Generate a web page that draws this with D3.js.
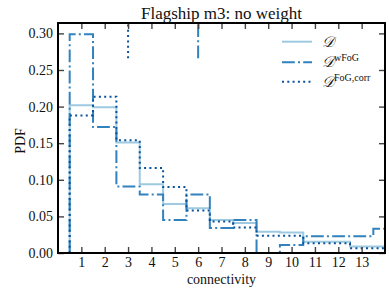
<!DOCTYPE html>
<html>
<head>
<meta charset="utf-8">
<script src="https://cdn.jsdelivr.net/npm/d3@7"></script>
<style>
  body { margin: 0; background: #fff; }
  text { font-family: "Liberation Serif", "DejaVu Serif", serif; fill: #111; }
</style>
</head>
<body>
<svg id="chart" width="389" height="292"></svg>
<script>
// bin centres (connectivity) and PDF values
var centers = [1, 2, 3, 4, 5, 6, 7, 8, 9, 10, 11, 12, 13, 14];
var pdfD    = [0.202, 0.199, 0.151, 0.094, 0.067, 0.061, 0.045, 0.041, 0.029, 0.028, 0.0155, 0.0155, 0.0088, 0.0088];
var pdfWFoG = [0.299, 0.172, 0.091, 0.080, 0.045, 0.080, 0.034, 0.045, 0.0, 0.011, 0.023, 0.023, 0.023, 0.033];
var pdfCorr = [0.188, 0.2135, 0.154, 0.116, 0.090, 0.058, 0.043, 0.035, 0.0235, 0.0235, 0.0132, 0.0132, 0.0064, 0.0064];

// short marker lines at the top of the frame
var markX   = [3, 6];
var markLow = 0.266;

var xTicks = [1, 2, 3, 4, 5, 6, 7, 8, 9, 10, 11, 12, 13];
var yTicks = [0, 0.05, 0.10, 0.15, 0.20, 0.25, 0.30];

var series = [
    {name: "D",    sup: "",         values: pdfD,    color: "#9ecae1", dash: null},
    {name: "wFoG", sup: "wFoG",     values: pdfWFoG, color: "#3182bd", dash: "12.8,3.2,2,3.2"},
    {name: "corr", sup: "FoG,corr", values: pdfCorr, color: "#08519c", dash: "2,3.3"}
];

// plot box (note: "top" is reserved on window, so use m* names)
var mLeft = 58, mRight = 385, mTop = 23, mBottom = 253;
var svg = d3.select("#chart");

var x = d3.scaleLinear().domain([0, 14]).range([mLeft, mRight]);
var y = d3.scaleLinear().domain([0, 0.3142]).range([mBottom, mTop]);

svg.append("clipPath").attr("id", "clip")
    .append("rect").attr("x", mLeft).attr("y", mTop)
    .attr("width", mRight - mLeft).attr("height", mBottom - mTop);

var plot = svg.append("g").attr("clip-path", "url(#clip)");

// build step outline like a step histogram
function stepPoints(vals) {
    var pts = [[centers[0] - 0.5, 0]];
    for (var i = 0; i < vals.length; i++) {
        pts.push([centers[i] - 0.5, vals[i]]);
        pts.push([centers[i] + 0.5, vals[i]]);
    }
    pts.push([centers[centers.length - 1] + 0.5, 0]);
    return pts;
}

var line = d3.line()
    .x(function (d) { return x(d[0]); })
    .y(function (d) { return y(d[1]); });

series.forEach(function (s) {
    plot.append("path")
        .attr("d", line(stepPoints(s.values)))
        .attr("fill", "none")
        .attr("stroke", s.color)
        .attr("stroke-width", 2)
        .attr("stroke-dasharray", s.dash);
});

// marker segments: dotted at 3, dash-dot at 6
plot.append("line")
    .attr("x1", x(markX[0])).attr("x2", x(markX[0]))
    .attr("y1", y(markLow)).attr("y2", mTop)
    .attr("stroke", series[2].color).attr("stroke-width", 2)
    .attr("stroke-dasharray", series[2].dash);
plot.append("line")
    .attr("x1", x(markX[1])).attr("x2", x(markX[1]))
    .attr("y1", y(markLow)).attr("y2", mTop)
    .attr("stroke", series[1].color).attr("stroke-width", 2)
    .attr("stroke-dasharray", series[1].dash);

// inward ticks on all four sides
var tl = 6;
var tickCol = "#444";
function drawAxis(axis, tr) {
    var g = svg.append("g").attr("transform", tr).call(axis);
    g.select(".domain").remove();
    g.selectAll("line").attr("stroke", tickCol).attr("stroke-width", 1.4);
    g.selectAll("text").attr("font-size", 14).attr("fill", "#111")
        .attr("font-family", "Liberation Serif, serif");
    return g;
}

drawAxis(d3.axisBottom(x).tickValues(xTicks).tickSizeInner(-tl).tickPadding(4)
    .tickFormat(d3.format("d")), "translate(0," + mBottom + ")");
drawAxis(d3.axisTop(x).tickValues(xTicks).tickSizeInner(-tl).tickFormat(""), "translate(0," + mTop + ")");
drawAxis(d3.axisLeft(y).tickValues(yTicks).tickSizeInner(-tl).tickPadding(5)
    .tickFormat(d3.format(".2f")), "translate(" + mLeft + ",0)");
drawAxis(d3.axisRight(y).tickValues(yTicks).tickSizeInner(-tl).tickFormat(""), "translate(" + mRight + ",0)");

// frame
svg.append("rect")
    .attr("x", mLeft).attr("y", mTop)
    .attr("width", mRight - mLeft).attr("height", mBottom - mTop)
    .attr("fill", "none").attr("stroke", "#000").attr("stroke-width", 2);

// labels
svg.append("text").attr("x", 221.5).attr("y", 18.5)
    .attr("text-anchor", "middle").attr("font-size", 17)
    .text("Flagship m3: no weight");
svg.append("text").attr("x", 221.5).attr("y", 284)
    .attr("text-anchor", "middle").attr("font-size", 14)
    .text("connectivity");
svg.append("text").attr("transform", "translate(25,141) rotate(-90)")
    .attr("text-anchor", "middle").attr("font-size", 14)
    .text("PDF");

// legend
var legY = [41.7, 62.3, 81.7];
series.forEach(function (s, i) {
    svg.append("line")
        .attr("x1", 282).attr("x2", 312)
        .attr("y1", legY[i]).attr("y2", legY[i])
        .attr("stroke", s.color).attr("stroke-width", 2)
        .attr("stroke-dasharray", s.dash);
    var t = svg.append("text").attr("x", 322).attr("y", legY[i] + 5).attr("font-size", 15);
    t.append("tspan").attr("font-style", "italic").text("\uD835\uDC9F");
    if (s.sup) {
        t.append("tspan").attr("font-size", 10).attr("dy", -6).text(s.sup);
    }
});
</script>
</body>
</html>
